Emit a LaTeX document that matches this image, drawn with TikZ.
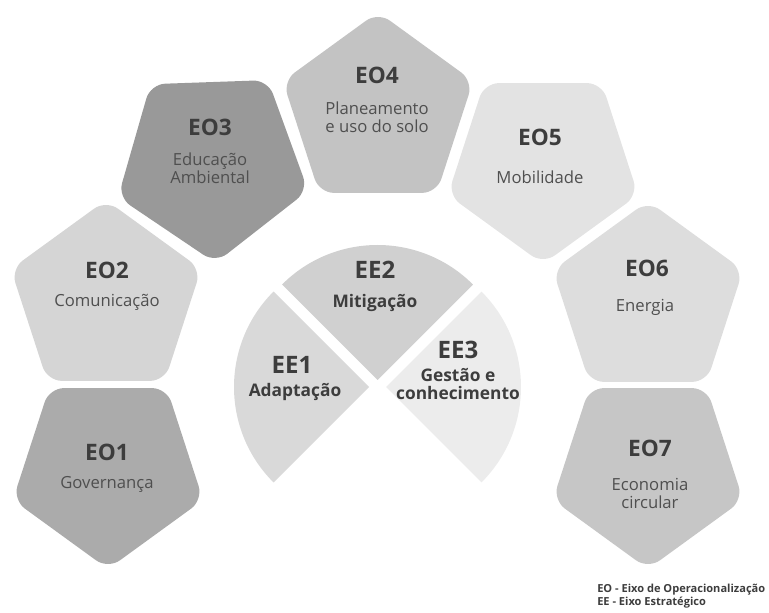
\documentclass[tikz,border=0pt]{standalone}
\usepackage{fontspec}
\setmainfont{Open Sans}
\usetikzlibrary{shapes.geometric,positioning}
\definecolor{eoone}{rgb}{0.67, 0.67, 0.67}
\definecolor{eotwo}{rgb}{0.835, 0.835, 0.835}
\definecolor{eothree}{rgb}{0.60, 0.60, 0.60}
\definecolor{eofour}{rgb}{0.765, 0.765, 0.765}
\definecolor{eofive}{rgb}{0.89, 0.89, 0.89}
\definecolor{eosix}{rgb}{0.865, 0.865, 0.865}
\definecolor{eoseven}{rgb}{0.775, 0.775, 0.775}
\definecolor{eeone}{rgb}{0.85, 0.85, 0.85}
\definecolor{eetwo}{rgb}{0.815, 0.815, 0.815}
\definecolor{eethree}{rgb}{0.925, 0.925, 0.925}
\definecolor{titlegray}{rgb}{0.24, 0.24, 0.24}
\definecolor{textgray}{rgb}{0.31, 0.31, 0.31}

\tikzset{
	pent/.style={regular polygon, regular polygon sides=5, minimum size=150pt, inner sep=0pt, rounded corners=11pt, draw=none},
	pentup/.style={pent, shape border rotate=0},
	pentdown/.style={pent, shape border rotate=180},
	eotitle/.style={font=\fontsize{17}{19}\selectfont\bfseries, text=titlegray, inner sep=0pt},
	eotext/.style={font=\fontsize{12.5}{13.5}\selectfont, text=textgray, align=center, inner sep=0pt},
	eetitle/.style={font=\fontsize{18}{20}\selectfont\bfseries, text=titlegray, inner sep=0pt},
	eetext/.style={font=\fontsize{13}{14}\selectfont\bfseries, text=titlegray, align=center, inner sep=0pt},
}

\begin{document}
\begin{tikzpicture}[x=0.75pt,y=0.75pt,yscale=-1,xscale=1]
	\useasboundingbox (0,0) rectangle (769,613);
	
	%Shape: Pentagons
	\node [pentdown, fill=eoone] (eo1) at (108,469) {};
	\node [pentup, fill=eotwo] (eo2) at (106,300) {};
	\node [pentdown, fill=eothree, shape border rotate=182] (eo3) at (212,163) {};
	\node [pentup, fill=eofour] (eo4) at (378,112) {};
	\node [pentdown, fill=eofive] (eo5) at (543,164) {};
	\node [pentup, fill=eosix] (eo6) at (648,301) {};
	\node [pentdown, fill=eoseven] (eo7) at (648,469) {};
	
	%Shape: Sectors
	\fill [eeone] (369,387) -- ++(-135:135) arc [start angle=-135, end angle=-225, radius=135] -- cycle;
	\fill [eetwo] (377.5,380) -- ++(-45:135) arc [start angle=-45, end angle=-135, radius=135] -- cycle;
	\fill [eethree] (386,387) -- ++(45:135) arc [start angle=45, end angle=-45, radius=135] -- cycle;
	
	% Text Node
	\node [eotitle] (eo1t) at (107,452) {EO1};
	\node [eotext] (eo1s) at (107,484) {Governança};
	\node [eotitle] (eo2t) at (107,270) {EO2};
	\node [eotext] (eo2s) at (107,302) {Comunicação};
	\node [eotitle] (eo3t) at (210,127) {EO3};
	\node [eotext] (eo3s) at (210,168) {Educação\\Ambiental};
	\node [eotitle] (eo4t) at (377,75) {EO4};
	\node [eotext] (eo4s) at (377,117) {Planeamento\\e uso do solo};
	\node [eotitle] (eo5t) at (540,137) {EO5};
	\node [eotext] (eo5s) at (540,177) {Mobilidade};
	\node [eotitle] (eo6t) at (647,268) {EO6};
	\node [eotext] (eo6s) at (645,307) {Energia};
	\node [eotitle] (eo7t) at (650,448) {EO7};
	\node [eotext] (eo7s) at (650,493) {Economia\\circular};
	
	% Text Node
	\node [eetitle] (ee2t) at (375,270) {EE2};
	\node [eetext] (ee2s) at (375,303) {Mitigação};
	\node [eetitle] (ee1t) at (292,365) {EE1};
	\node [eetext] (ee1s) at (295,392) {Adaptação};
	\node [eetitle] (ee3t) at (458,350) {EE3};
	\node [eetext] (ee3s) at (458,384) {Gestão e\\conhecimento};
	
	% Text Node
	\node [font=\fontsize{8.3}{10}\selectfont\bfseries, text=titlegray, align=left, anchor=west, inner sep=0pt] (legend) at (597,596) {EO - Eixo de Operacionalização\\EE - Eixo Estratégico};
	
\end{tikzpicture}
\end{document}
